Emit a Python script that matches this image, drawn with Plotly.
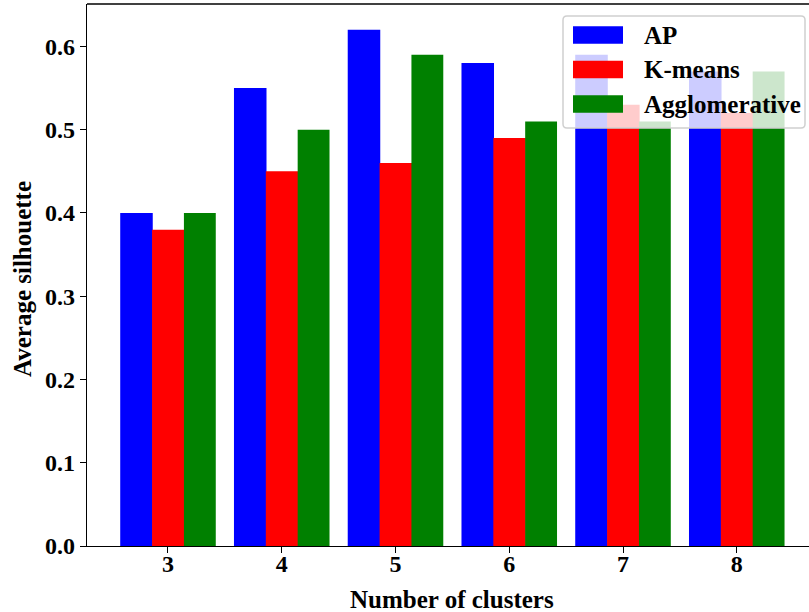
import plotly.graph_objects as go

clusters = [3, 4, 5, 6, 7, 8]
ap = [0.40, 0.55, 0.62, 0.58, 0.59, 0.57]
kmeans = [0.38, 0.45, 0.46, 0.49, 0.53, 0.52]
agglo = [0.40, 0.50, 0.59, 0.51, 0.51, 0.57]
series_names = ["AP", "K-means", "Agglomerative"]
series_colors = ["#0000ff", "#ff0000", "#008000"]
y_ticks = [0.0, 0.1, 0.2, 0.3, 0.4, 0.5, 0.6]

W, H = 809, 612
ML, MR, MT, MB = 87, 0, 4, 66
PW, PH = W - ML - MR, H - MT - MB
FONT = "Liberation Serif, Times New Roman, serif"
FS = 24


def px(x):
    return (x - ML) / PW


def py(y):
    return (H - MB - y) / PH


fig = go.Figure()
offsets = [-0.42, -0.14, 0.14]
widths = [0.286, 0.286, 0.28]
for name, vals, col, off, wd in zip(series_names, [ap, kmeans, agglo], series_colors, offsets, widths):
    fig.add_trace(go.Bar(x=clusters, y=vals, name=name, marker_color=col,
                         offset=off, width=wd,
                         marker_line_width=0, showlegend=False))

shapes = []
annotations = []

lx0, lx1, ly0, ly1 = 563, 805, 16, 128
rad = 4


def P(xp, yp):
    return f"{px(xp):.5f},{py(yp):.5f}"


path = (f"M {P(lx0+rad, ly0)} L {P(lx1-rad, ly0)} Q {P(lx1, ly0)} {P(lx1, ly0+rad)} "
        f"L {P(lx1, ly1-rad)} Q {P(lx1, ly1)} {P(lx1-rad, ly1)} "
        f"L {P(lx0+rad, ly1)} Q {P(lx0, ly1)} {P(lx0, ly1-rad)} "
        f"L {P(lx0, ly0+rad)} Q {P(lx0, ly0)} {P(lx0+rad, ly0)} Z")
shapes.append(dict(type="path", xref="paper", yref="paper", path=path,
                   fillcolor="rgba(255,255,255,0.8)",
                   line=dict(color="#d0d0d0", width=1.5), layer="above"))

row_centers = [35, 69.5, 104]
for name, col, yc in zip(series_names, series_colors, row_centers):
    shapes.append(dict(type="rect", xref="paper", yref="paper",
                       x0=px(573), x1=px(623), y0=py(yc - 8.7), y1=py(yc + 8.7),
                       fillcolor=col, line=dict(width=0), layer="above"))
    annotations.append(dict(text=f"<b>{name}</b>", xref="paper", yref="paper",
                            x=px(642), y=py(yc), xanchor="left", yanchor="middle",
                            showarrow=False, font=dict(family=FONT, size=FS + 1, color="black")))

# top spine
shapes.append(dict(type="line", xref="paper", yref="paper", x0=0, x1=1, y0=1, y1=1,
                   line=dict(color="black", width=1.3), layer="above"))

# axis titles
annotations.append(dict(text="<b>Number of clusters</b>", xref="paper", yref="paper",
                        x=px(452), y=py(599), xanchor="center", yanchor="middle",
                        showarrow=False, font=dict(family=FONT, size=FS + 1, color="black")))
annotations.append(dict(text="<b>Average silhouette</b>", xref="paper", yref="paper",
                        x=px(22), y=py(279), xanchor="center", yanchor="middle",
                        textangle=-90,
                        showarrow=False, font=dict(family=FONT, size=FS + 1, color="black")))

fig.update_layout(
    width=W, height=H,
    margin=dict(l=ML, r=MR, t=MT, b=MB, pad=0),
    paper_bgcolor="white", plot_bgcolor="white",
    barmode="overlay",
    shapes=shapes, annotations=annotations,
    font=dict(family=FONT, size=FS, color="black"),
)
fig.update_xaxes(range=[2.288, 8.635], tickvals=clusters,
                 ticktext=[f"<b>{c}</b>" for c in clusters],
                 showline=True, linecolor="black", linewidth=1.3,
                 ticks="outside", ticklen=6, tickwidth=1.3, tickcolor="black",
                 ticklabelstandoff=-10,
                 showgrid=False, zeroline=False)
fig.update_yaxes(range=[0, 0.651], tickvals=y_ticks,
                 ticktext=[f"<b>{v:.1f}</b>" for v in y_ticks],
                 showline=True, linecolor="black", linewidth=1.3,
                 ticks="outside", ticklen=6, tickwidth=1.3, tickcolor="black",
                 showgrid=False, zeroline=False)

fig.write_html("out.html")
